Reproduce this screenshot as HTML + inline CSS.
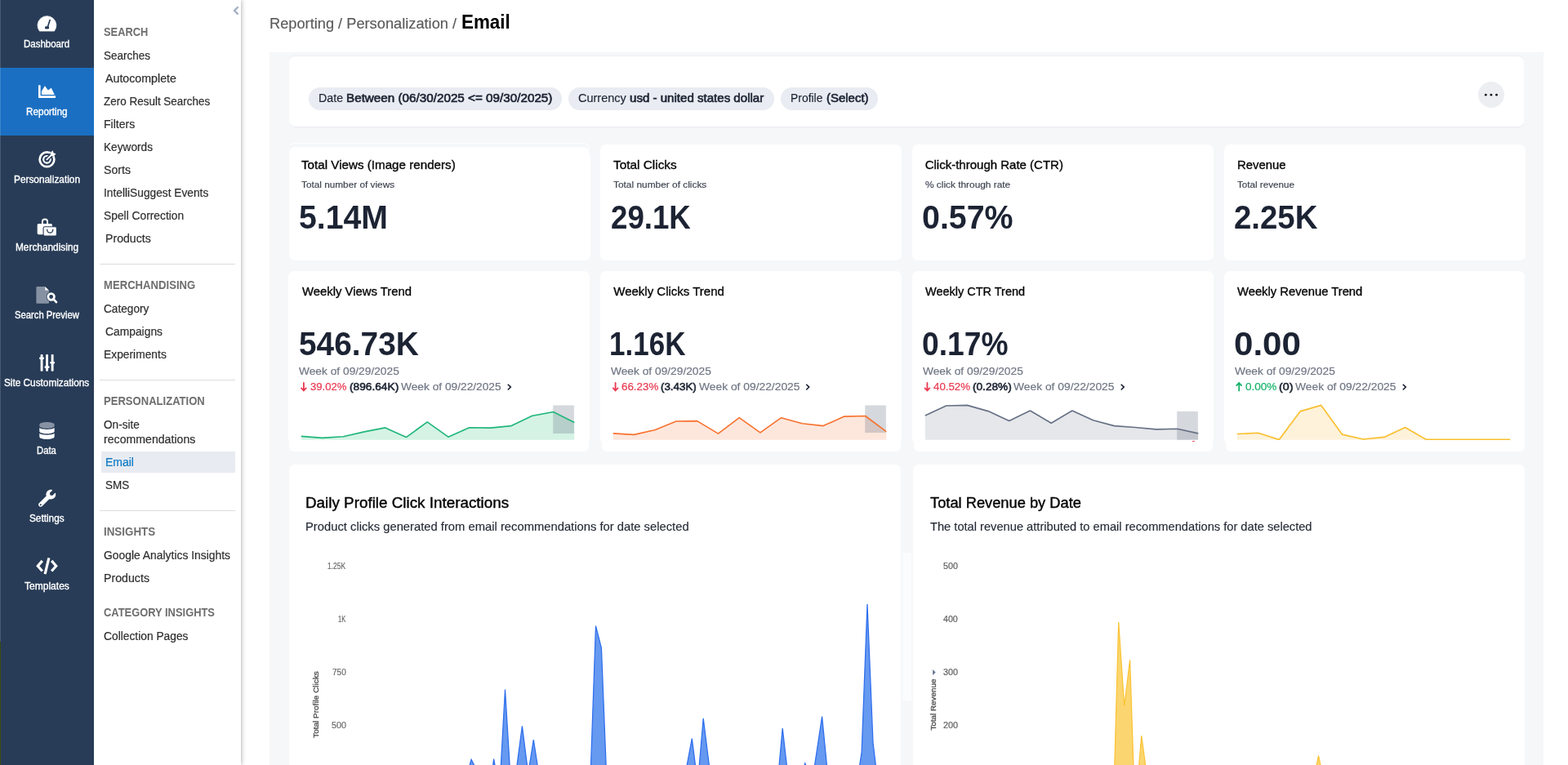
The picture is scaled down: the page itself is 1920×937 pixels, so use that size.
<!DOCTYPE html>
<html lang="en">
<head>
<meta charset="utf-8">
<title>Reporting / Personalization / Email</title>
<style>
html,body{margin:0;padding:0;}
body{width:1920px;height:937px;overflow:hidden;background:#fff;position:relative;font-family:"Liberation Sans",sans-serif;}
.abs{position:absolute;}
.t{position:absolute;white-space:pre;line-height:1;transform-origin:0 50%;}
#nav{left:0;top:0;width:115px;height:937px;background:#283c57;}
#navact{left:0;top:83px;width:115px;height:83px;background:#1b6fc2;}
#sub{left:115px;top:0;width:180px;height:937px;background:#fff;box-shadow:1px 0 5px rgba(0,0,0,.28);}
.hr{position:absolute;left:122px;width:166px;height:1px;background:#dcdcdc;}
#sel{left:124px;top:553px;width:164px;height:25.6px;background:#e8ebf1;}
#panel{left:330px;top:64px;width:1560px;height:873px;background:#f6f7f9;}
.card{position:absolute;background:#fff;}
.pill{position:absolute;top:107px;height:27.9px;border-radius:14px;background:#e9ecf2;}
#more{left:1810px;top:100.2px;width:32px;height:32px;border-radius:50%;background:#eceef2;}
body>svg{position:absolute;left:0;top:0;}
</style>
</head>
<body>
<div id="sub" class="abs"></div>
<div id="nav" class="abs"></div>
<div id="navact" class="abs"></div>
<div class="abs" style="left:0;top:0;width:1px;height:786px;background:rgba(255,255,255,.15)"></div>
<div class="abs" style="left:0;top:786px;width:1px;height:151px;background:#3d4a12"></div>
<div id="sel" class="abs"></div>
<div class="hr" style="top:323px"></div>
<div class="hr" style="top:465px"></div>
<div class="hr" style="top:625px"></div>
<div id="panel" class="abs"></div>
<div class="card" style="left:354px;top:69px;width:1512.00px;height:86.10px;border-radius:7px;box-shadow:0 1px 0 #e9ecf2, 0 -1px 0 #eceef3;"></div>
<div class="abs" style="left:353px;top:175.4px;width:369.4px;height:30px;border-radius:8px 8px 0 0;box-sizing:border-box;border:1px solid rgba(255,255,255,.75);border-bottom:none;border-left:none"></div>
<div class="card" style="left:354px;top:179.85px;width:366.60px;height:25.15px;border-radius:7px 7px 0 0;"></div>
<div class="card" style="left:354px;top:192px;width:368.80px;height:127.30px;border-radius:0 0 7px 7px;"></div>
<div class="card" style="left:734.9px;top:177px;width:368.70px;height:142.10px;border-radius:7px;"></div>
<div class="card" style="left:1117px;top:177px;width:368.60px;height:142.10px;border-radius:7px;"></div>
<div class="card" style="left:1498.75px;top:177px;width:368.75px;height:142.10px;border-radius:7px;"></div>
<div class="card" style="left:353.1px;top:331.8px;width:368.80px;height:208.05px;border-radius:7px 7px 0 0;"></div>
<div class="card" style="left:354.1px;top:535px;width:367.10px;height:18.05px;border-radius:0 0 6px 6px;"></div>
<div class="card" style="left:734.9px;top:331.8px;width:369.10px;height:208.05px;border-radius:7px 7px 0 0;"></div>
<div class="card" style="left:736.9px;top:535px;width:366.20px;height:18.05px;border-radius:0 0 6px 6px;"></div>
<div class="card" style="left:1116.7px;top:331.8px;width:369.20px;height:208.05px;border-radius:7px 7px 0 0;"></div>
<div class="card" style="left:1118.9px;top:535px;width:366.10px;height:18.05px;border-radius:0 0 6px 6px;"></div>
<div class="card" style="left:1498.7px;top:331.8px;width:368.80px;height:208.05px;border-radius:7px 7px 0 0;"></div>
<div class="card" style="left:1501px;top:535px;width:365.50px;height:18.05px;border-radius:0 0 6px 6px;"></div>
<div class="card" style="left:354.1px;top:569px;width:748.70px;height:391.00px;border-radius:7px;"></div>
<div class="card" style="left:1118.4px;top:569px;width:749.10px;height:391.00px;border-radius:7px;"></div>
<div class="abs" style="left:1460.3px;top:540px;width:3.2px;height:1px;background:#f0506a"></div>
<div class="pill" style="left:377.9px;width:310.3px"></div>
<div class="pill" style="left:695.8px;width:252.1px"></div>
<div class="pill" style="left:956px;width:119px"></div>
<div id="more" class="abs"></div>
<svg width="1920" height="937" viewBox="0 0 1920 937">
<svg x="340" y="480" width="1540" height="58.9" viewBox="340 480 1540 58.9" overflow="hidden"><g id="sparks"><path d="M368.8,534.4 L394.5,536.4 L420.3,534.8 L446.0,528.9 L471.7,523.9 L497.4,535.6 L523.2,516.8 L548.9,535.2 L574.6,523.7 L600.4,524.1 L626.1,521.6 L651.8,509.3 L677.6,504.5 L703.3,517.6 L703.3,538.8 L368.8,538.8 Z" fill="#d5f3e5"/><rect x="677.2" y="496.4" width="25.7" height="34.6" fill="rgba(100,110,130,0.27)"/><path d="M368.8,534.4 L394.5,536.4 L420.3,534.8 L446.0,528.9 L471.7,523.9 L497.4,535.6 L523.2,516.8 L548.9,535.2 L574.6,523.7 L600.4,524.1 L626.1,521.6 L651.8,509.3 L677.6,504.5 L703.3,517.6" fill="none" stroke="#1fb67a" stroke-width="1.65" stroke-linejoin="round" stroke-linecap="butt"/><path d="M750.8,530.9 L776.5,532.4 L802.3,526.5 L828.0,516.0 L853.7,515.6 L879.4,531.1 L905.2,511.7 L930.9,529.9 L956.6,511.7 L982.4,518.8 L1008.1,521.6 L1033.8,510.1 L1059.6,509.5 L1085.3,528.7 L1085.3,538.8 L750.8,538.8 Z" fill="#fde7dd"/><rect x="1059.2" y="496.4" width="25.7" height="33.6" fill="rgba(100,110,130,0.27)"/><path d="M750.8,530.9 L776.5,532.4 L802.3,526.5 L828.0,516.0 L853.7,515.6 L879.4,531.1 L905.2,511.7 L930.9,529.9 L956.6,511.7 L982.4,518.8 L1008.1,521.6 L1033.8,510.1 L1059.6,509.5 L1085.3,528.7" fill="none" stroke="#f7722f" stroke-width="1.65" stroke-linejoin="round" stroke-linecap="butt"/><path d="M1132.8,508.9 L1158.5,497.0 L1184.3,496.4 L1210.0,503.6 L1235.7,515.4 L1261.4,503.0 L1287.2,518.2 L1312.9,503.0 L1338.6,514.8 L1364.4,521.6 L1390.1,523.5 L1415.8,525.9 L1441.6,525.3 L1467.3,530.9 L1467.3,538.8 L1132.8,538.8 Z" fill="#e6e7ea"/><rect x="1441.2" y="503.9" width="25.7" height="34.8" fill="rgba(100,110,130,0.27)"/><path d="M1132.8,508.9 L1158.5,497.0 L1184.3,496.4 L1210.0,503.6 L1235.7,515.4 L1261.4,503.0 L1287.2,518.2 L1312.9,503.0 L1338.6,514.8 L1364.4,521.6 L1390.1,523.5 L1415.8,525.9 L1441.6,525.3 L1467.3,530.9" fill="none" stroke="#667085" stroke-width="1.65" stroke-linejoin="round" stroke-linecap="butt"/><path d="M1514.8,531.5 L1540.5,530.3 L1566.3,538.6 L1592.0,503.9 L1617.7,496.4 L1643.4,532.1 L1669.2,538.0 L1694.9,535.4 L1720.6,523.5 L1746.4,538.4 L1772.1,538.4 L1797.8,538.4 L1823.6,538.4 L1849.3,538.4 L1849.3,538.8 L1514.8,538.8 Z" fill="#fef2db"/><path d="M1514.8,531.5 L1540.5,530.3 L1566.3,538.6 L1592.0,503.9 L1617.7,496.4 L1643.4,532.1 L1669.2,538.0 L1694.9,535.4 L1720.6,523.5 L1746.4,538.4 L1772.1,538.4 L1797.8,538.4 L1823.6,538.4 L1849.3,538.4" fill="none" stroke="#f9bf2d" stroke-width="1.65" stroke-linejoin="round" stroke-linecap="butt"/></g></svg>
<g id="arrows"><path d="M371.9,469.0 V478.5 M369.0,475.4 L371.9,478.5 L374.8,475.4" fill="none" stroke="#e8384f" stroke-width="1.8" stroke-linecap="round" stroke-linejoin="round"/><path d="M621.8,470.7 L625.3,474.1 L621.8,477.5" fill="none" stroke="#1c2333" stroke-width="1.6"/><path d="M753.6,469.0 V478.5 M750.8,475.4 L753.6,478.5 L756.5,475.4" fill="none" stroke="#e8384f" stroke-width="1.8" stroke-linecap="round" stroke-linejoin="round"/><path d="M987.2,470.7 L990.7,474.1 L987.2,477.5" fill="none" stroke="#1c2333" stroke-width="1.6"/><path d="M1135.4,469.0 V478.5 M1132.5,475.4 L1135.4,478.5 L1138.3,475.4" fill="none" stroke="#e8384f" stroke-width="1.8" stroke-linecap="round" stroke-linejoin="round"/><path d="M1372.7,470.7 L1376.2,474.1 L1372.7,477.5" fill="none" stroke="#1c2333" stroke-width="1.6"/><path d="M1517.2,478.5 V469.0 M1514.2,472.1 L1517.2,469.0 L1520.1,472.1" fill="none" stroke="#17b26a" stroke-width="1.8" stroke-linecap="round" stroke-linejoin="round"/><path d="M1717.8,470.7 L1721.3,474.1 L1717.8,477.5" fill="none" stroke="#1c2333" stroke-width="1.6"/></g>
<g id="bluechart"><path d="M566.7,967.0 L577.1,930.3 L595.7,967.0 Z" fill="#6699f0" stroke="#2d6eee" stroke-width="1.25" stroke-linejoin="miter"/><path d="M600.1,967.0 L604.6,929.6 L611.7,967.0 Z" fill="#6699f0" stroke="#2d6eee" stroke-width="1.25" stroke-linejoin="miter"/><path d="M611.7,967.0 L618.5,844.6 L625.9,967.0 Z" fill="#6699f0" stroke="#2d6eee" stroke-width="1.25" stroke-linejoin="miter"/><path d="M629.1,967.0 L639.4,889.3 L649.2,967.0 Z" fill="#6699f0" stroke="#2d6eee" stroke-width="1.25" stroke-linejoin="miter"/><path d="M643.7,967.0 L653.3,906.0 L662.7,967.0 Z" fill="#6699f0" stroke="#2d6eee" stroke-width="1.25" stroke-linejoin="miter"/><path d="M722.5,967.0 L729.5,766.6 L736.4,793.7 L743.3,967.0 Z" fill="#6699f0" stroke="#2d6eee" stroke-width="1.25" stroke-linejoin="miter"/><path d="M835.6,967.0 L847.3,904.6 L855.2,967.0 Z" fill="#6699f0" stroke="#2d6eee" stroke-width="1.25" stroke-linejoin="miter"/><path d="M853.7,967.0 L861.2,879.8 L872.0,967.0 Z" fill="#6699f0" stroke="#2d6eee" stroke-width="1.25" stroke-linejoin="miter"/><path d="M951.4,967.0 L958.2,892.1 L966.7,967.0 Z" fill="#6699f0" stroke="#2d6eee" stroke-width="1.25" stroke-linejoin="miter"/><path d="M976.2,967.0 L985.8,935.0 L998.6,967.0 Z" fill="#6699f0" stroke="#2d6eee" stroke-width="1.25" stroke-linejoin="miter"/><path d="M993.1,967.0 L1006.6,877.5 L1015.3,967.0 Z" fill="#6699f0" stroke="#2d6eee" stroke-width="1.25" stroke-linejoin="miter"/><path d="M1048.1,967.0 L1055.1,921.4 L1062.0,740.1 L1069.0,909.8 L1075.9,967.0 Z" fill="#6699f0" stroke="#2d6eee" stroke-width="1.25" stroke-linejoin="miter"/></g>
<g id="yellowchart"><path d="M1364.0,967.0 L1369.7,761.9 L1376.7,864.8 L1383.6,808.2 L1388.9,967.0 Z" fill="#fbd670" stroke="#fac233" stroke-width="1.2" stroke-linejoin="miter"/><path d="M1392.2,967.0 L1397.7,901.1 L1406.7,967.0 Z" fill="#fbd670" stroke="#fac233" stroke-width="1.2" stroke-linejoin="miter"/><path d="M1606.1,967.0 L1614.5,925.7 L1623.3,967.0 Z" fill="#fbd670" stroke="#fac233" stroke-width="1.2" stroke-linejoin="miter"/></g>
<g id="dots" fill="#0a0a0a"><circle cx="1819.3" cy="116.2" r="1.35"/><circle cx="1825.9" cy="116.2" r="1.35"/><circle cx="1832.5" cy="116.2" r="1.35"/></g>
<path d="M290.9,9.1 L287,12.9 L290.9,16.8" fill="none" stroke="#a6b2c6" stroke-width="2.5" stroke-linecap="round" stroke-linejoin="round"/>
<g id="icons">
<!-- dashboard -->
<path d="M48.4,38.1 A11.45,11.45 0 1 1 66.5,38.1 Z" fill="#fff" stroke="#fff" stroke-width="0.7" stroke-linejoin="round"/>
<path d="M61.1,24.5 L58.3,33.4" fill="none" stroke="#283c57" stroke-width="1.7" stroke-linecap="round"/>
<rect x="55" y="32.2" width="5.1" height="3.4" rx="1.4" fill="#283c57"/>
<!-- reporting -->
<path transform="translate(47,101.55) scale(0.0412)" fill="#fff" d="M500 384c6.600 0 12 5.400 12 12v40c0 6.600-5.400 12-12 12H12c-6.600 0-12-5.400-12-12V76c0-6.600 5.400-12 12-12h40c6.600 0 12 5.400 12 12v308h436zM372.700 159.500L288 216l-85.300-113.700c-5.100-6.800-15.500-6.300-19.900 1L96 248v104h384l-89.900-187.800c-3.200-6.500-11.400-8.700-17.400-4.700z"/>
<!-- personalization -->
<circle cx="57.5" cy="195.3" r="8.9" fill="none" stroke="#fff" stroke-width="2.7"/>
<circle cx="57.5" cy="195.3" r="4.3" fill="none" stroke="#fff" stroke-width="2.2"/>
<path d="M57.3,195.6 L63.6,189.2" stroke="#283c57" stroke-width="4.6" stroke-linecap="round" fill="none"/>
<path d="M61.9,187.6 L64.4,184.7 L65.2,187.5 L68.1,188.5 L65.3,191.3 L62.6,190.6 Z" fill="#fff" stroke="#283c57" stroke-width="1.0" paint-order="stroke" stroke-linejoin="round"/>
<path d="M57.4,195.4 L64.2,188.6" stroke="#fff" stroke-width="1.9" stroke-linecap="round" fill="none"/>
<path d="M61.9,187.6 L64.4,184.7 L65.2,187.5 L68.1,188.5 L65.3,191.3 L62.6,190.6 Z" fill="#fff" stroke="#fff" stroke-width="0.5" stroke-linejoin="round"/>
<!-- merchandising -->
<path d="M51.9,274.4 V271.6 A3.1,3.1 0 0 1 58.1,271.6 V274.4" fill="none" stroke="#fff" stroke-width="1.9"/>
<rect x="45.7" y="274" width="18.2" height="13.2" rx="1.6" fill="#fff"/>
<rect x="53.1" y="277.7" width="16.3" height="11.4" rx="1.8" fill="#fff" stroke="#283c57" stroke-width="1.1"/>
<path d="M57.7,281.2 A3.55,3.9 0 0 0 64.8,281.2" fill="none" stroke="#283c57" stroke-width="1.4" stroke-linecap="round"/>
<!-- search preview -->
<path d="M45.6,351 H55 V355.9 H60.1 V370.6 A1.2,1.2 0 0 1 58.9,371.8 H45.6 A1.2,1.2 0 0 1 44.4,370.6 V352.2 A1.2,1.2 0 0 1 45.6,351 Z" fill="#8692a3"/>
<path d="M55.2,351 L60.1,355.7 H55.2 Z" fill="#fff"/>
<circle cx="62.65" cy="363.5" r="5.9" fill="#283c57"/>
<path d="M65.6,366.6 L69.1,370.2" stroke="#283c57" stroke-width="4.6" stroke-linecap="round"/>
<circle cx="62.65" cy="363.5" r="3.8" fill="none" stroke="#fff" stroke-width="2.7"/>
<path d="M65.9,366.9 L69,370.1" stroke="#fff" stroke-width="2.8" stroke-linecap="round"/>
<!-- site customizations -->
<g fill="#fff">
<rect x="49.6" y="434" width="2.9" height="20.8" rx="1"/>
<rect x="56.1" y="434" width="2.9" height="20.8" rx="1"/>
<rect x="62.7" y="434" width="2.9" height="20.8" rx="1"/>
<rect x="48.1" y="437.5" width="5.9" height="2.7" rx="1.1"/>
<rect x="54.6" y="448.3" width="5.9" height="2.7" rx="1.1"/>
<rect x="61.2" y="442.9" width="5.9" height="2.7" rx="1.1"/>
</g>
<!-- data -->
<g transform="translate(48.3,516.9) scale(0.041)"><path fill="#8692a3" d="M448 73.143v45.714C448 159.143 347.667 192 224 192S0 159.143 0 118.857V73.143C0 32.857 100.333 0 224 0s224 32.857 224 73.143z"/><path fill="#fff" d="M448 176v102.857C448 319.143 347.667 352 224 352S0 319.143 0 278.857V176c48.125 33.143 136.208 48.572 224 48.572S399.874 209.143 448 176zm0 160v102.857C448 479.143 347.667 512 224 512S0 479.143 0 438.857V336c48.125 33.143 136.208 48.572 224 48.572S399.874 369.143 448 336z"/></g>
<!-- settings -->
<path transform="translate(47.1,599.7) scale(0.0413)" fill="#fff" d="M507.73 109.1c-2.24-9.03-13.54-12.09-20.12-5.51l-74.36 74.36-67.88-11.31-11.31-67.88 74.36-74.36c6.62-6.62 3.43-17.9-5.66-20.16-47.38-11.74-99.55.91-136.58 37.93-39.64 39.64-50.55 97.1-34.05 147.2L18.74 402.76c-24.99 24.99-24.99 65.51 0 90.5 24.99 24.99 65.51 24.99 90.5 0l213.21-213.21c50.12 16.71 107.47 5.68 147.37-34.22 37.07-37.07 49.7-89.32 37.91-136.73zM64 472c-13.25 0-24-10.75-24-24 0-13.260 10.750-24 24-24s24 10.740 24 24c0 13.250-10.750 24-24 24z"/>
<!-- templates -->
<g fill="none" stroke="#fff" stroke-width="3.2">
<path d="M51.8,686.9 L46.3,693.2 L51.8,699.5" stroke-linejoin="miter"/>
<path d="M63.2,686.9 L68.7,693.2 L63.2,699.5" stroke-linejoin="miter"/>
<path d="M59.9,683.4 L55.1,703.2" stroke-linecap="butt"/>
</g>
</g>

<g font-family="'Liberation Sans',sans-serif" font-size="9.9">
<text transform="translate(390.1,903.8) rotate(-90)" fill="#505050" stroke="#505050" stroke-width="0.35" textLength="81.6" lengthAdjust="spacingAndGlyphs">Total Profile Clicks</text>
<text transform="translate(1146.3,894.5) rotate(-90)" fill="#505050" stroke="#505050" stroke-width="0.35" textLength="62.9" lengthAdjust="spacingAndGlyphs">Total Revenue</text>
<path d="M1142.2,820 L1145.6,823.5 L1142.2,827 Z" fill="#60728f"/>
</g>
<rect x="1105.3" y="677" width="10.8" height="181.5" fill="#fff" opacity="0.6"/>
</svg>
<nav aria-label="Main">
<span class="t" style="left:29.33px;top:48px;font-size:12px;color:#fff;transform:scaleX(0.9579);-webkit-text-stroke:0.35px #fff;">Dashboard</span>
<span class="t" style="left:32.12px;top:131px;font-size:12px;color:#fff;transform:scaleX(0.9717);-webkit-text-stroke:0.35px #fff;">Reporting</span>
<span class="t" style="left:16.90px;top:214px;font-size:12px;color:#fff;transform:scaleX(0.9871);-webkit-text-stroke:0.35px #fff;">Personalization</span>
<span class="t" style="left:19.00px;top:297px;font-size:12px;color:#fff;transform:scaleX(0.9878);-webkit-text-stroke:0.35px #fff;">Merchandising</span>
<span class="t" style="left:17.66px;top:380px;font-size:12px;color:#fff;transform:scaleX(0.9381);-webkit-text-stroke:0.35px #fff;">Search Preview</span>
<span class="t" style="left:5.34px;top:463px;font-size:12px;color:#fff;transform:scaleX(0.9827);-webkit-text-stroke:0.35px #fff;">Site Customizations</span>
<span class="t" style="left:45.15px;top:546px;font-size:12px;color:#fff;transform:scaleX(0.9379);-webkit-text-stroke:0.35px #fff;">Data</span>
<span class="t" style="left:35.84px;top:629px;font-size:12px;color:#fff;transform:scaleX(0.9828);-webkit-text-stroke:0.35px #fff;">Settings</span>
<span class="t" style="left:30.10px;top:712px;font-size:12px;color:#fff;transform:scaleX(1.0030);-webkit-text-stroke:0.35px #fff;">Templates</span>
</nav>
<aside aria-label="Reporting menu">
<span class="t" style="left:126.60px;top:32px;font-size:14px;color:#6e6e6e;font-weight:700;transform:scaleX(0.9179);">SEARCH</span>
<span class="t" style="left:126.60px;top:61px;font-size:14px;color:#2e2e2e;transform:scaleX(0.9635);-webkit-text-stroke:0.2px #2e2e2e;">Searches</span>
<span class="t" style="left:128.60px;top:89px;font-size:14px;color:#2e2e2e;transform:scaleX(1.0155);-webkit-text-stroke:0.2px #2e2e2e;">Autocomplete</span>
<span class="t" style="left:126.60px;top:117px;font-size:14px;color:#2e2e2e;transform:scaleX(0.9623);-webkit-text-stroke:0.2px #2e2e2e;">Zero Result Searches</span>
<span class="t" style="left:126.60px;top:145px;font-size:14px;color:#2e2e2e;transform:scaleX(1.0052);-webkit-text-stroke:0.2px #2e2e2e;">Filters</span>
<span class="t" style="left:126.60px;top:173px;font-size:14px;color:#2e2e2e;transform:scaleX(0.9760);-webkit-text-stroke:0.2px #2e2e2e;">Keywords</span>
<span class="t" style="left:126.60px;top:201px;font-size:14px;color:#2e2e2e;transform:scaleX(1.0103);-webkit-text-stroke:0.2px #2e2e2e;">Sorts</span>
<span class="t" style="left:126.60px;top:229px;font-size:14px;color:#2e2e2e;transform:scaleX(0.9813);-webkit-text-stroke:0.2px #2e2e2e;">IntelliSuggest Events</span>
<span class="t" style="left:126.60px;top:257px;font-size:14px;color:#2e2e2e;transform:scaleX(0.9859);-webkit-text-stroke:0.2px #2e2e2e;">Spell Correction</span>
<span class="t" style="left:128.60px;top:285px;font-size:14px;color:#2e2e2e;transform:scaleX(1.0102);-webkit-text-stroke:0.2px #2e2e2e;">Products</span>
<span class="t" style="left:126.60px;top:371px;font-size:14px;color:#2e2e2e;transform:scaleX(0.9739);-webkit-text-stroke:0.2px #2e2e2e;">Category</span>
<span class="t" style="left:128.60px;top:399px;font-size:14px;color:#2e2e2e;transform:scaleX(0.9885);-webkit-text-stroke:0.2px #2e2e2e;">Campaigns</span>
<span class="t" style="left:126.60px;top:427px;font-size:14px;color:#2e2e2e;transform:scaleX(0.9871);-webkit-text-stroke:0.2px #2e2e2e;">Experiments</span>
<span class="t" style="left:126.60px;top:513px;font-size:14px;color:#2e2e2e;transform:scaleX(0.9730);-webkit-text-stroke:0.2px #2e2e2e;">On-site</span>
<span class="t" style="left:126.60px;top:531px;font-size:14px;color:#2e2e2e;transform:scaleX(1.0093);-webkit-text-stroke:0.2px #2e2e2e;">recommendations</span>
<span class="t" style="left:128.60px;top:587px;font-size:14px;color:#2e2e2e;transform:scaleX(0.9597);-webkit-text-stroke:0.2px #2e2e2e;">SMS</span>
<span class="t" style="left:126.60px;top:673px;font-size:14px;color:#2e2e2e;transform:scaleX(0.9912);-webkit-text-stroke:0.2px #2e2e2e;">Google Analytics Insights</span>
<span class="t" style="left:126.60px;top:701px;font-size:14px;color:#2e2e2e;transform:scaleX(1.0138);-webkit-text-stroke:0.2px #2e2e2e;">Products</span>
<span class="t" style="left:126.60px;top:772px;font-size:14px;color:#2e2e2e;transform:scaleX(0.9851);-webkit-text-stroke:0.2px #2e2e2e;">Collection Pages</span>
<span class="t" style="left:128.90px;top:559px;font-size:14px;color:#0b79c4;-webkit-text-stroke:0.2px #0b79c4;">Email</span>
<span class="t" style="left:126.60px;top:342px;font-size:14px;color:#6e6e6e;font-weight:700;transform:scaleX(0.9368);">MERCHANDISING</span>
<span class="t" style="left:126.60px;top:484px;font-size:14px;color:#6e6e6e;font-weight:700;transform:scaleX(0.9325);">PERSONALIZATION</span>
<span class="t" style="left:126.60px;top:644px;font-size:14px;color:#6e6e6e;font-weight:700;transform:scaleX(0.9547);">INSIGHTS</span>
<span class="t" style="left:126.60px;top:743px;font-size:14px;color:#6e6e6e;font-weight:700;transform:scaleX(0.9216);">CATEGORY INSIGHTS</span>
</aside>
<main>
<span class="t" style="left:329.58px;top:20px;font-size:18px;color:#5a5a5a;transform:scaleX(1.0129);-webkit-text-stroke:0.15px #5a5a5a;">Reporting / Personalization /</span>
<span class="t" style="left:565.00px;top:15px;font-size:24px;color:#000;font-weight:700;transform:scaleX(0.9337);">Email</span>
<span class="t" style="left:389.50px;top:113px;font-size:14px;color:#1c2333;transform:scaleX(1.0197);-webkit-text-stroke:0.15px #1c2333;">Date</span>
<span class="t" style="left:424.25px;top:113px;font-size:14px;color:#1c2333;transform:scaleX(1.0881);-webkit-text-stroke:0.6px #1c2333;">Between (06/30/2025 &lt;= 09/30/2025)</span>
<span class="t" style="left:707.84px;top:113px;font-size:14px;color:#1c2333;transform:scaleX(1.0356);-webkit-text-stroke:0.15px #1c2333;">Currency</span>
<span class="t" style="left:770.92px;top:113px;font-size:14px;color:#1c2333;transform:scaleX(1.0767);-webkit-text-stroke:0.6px #1c2333;">usd - united states dollar</span>
<span class="t" style="left:967.83px;top:113px;font-size:14px;color:#1c2333;transform:scaleX(0.9931);-webkit-text-stroke:0.15px #1c2333;">Profile</span>
<span class="t" style="left:1011.57px;top:113px;font-size:14px;color:#1c2333;transform:scaleX(1.0689);-webkit-text-stroke:0.6px #1c2333;">(Select)</span>
<span class="t" style="left:368.63px;top:194px;font-size:15px;color:#060606;transform:scaleX(1.0121);-webkit-text-stroke:0.35px #060606;">Total Views (Image renders)</span>
<span class="t" style="left:368.51px;top:221px;font-size:11.5px;color:#3a404d;transform:scaleX(1.0254);-webkit-text-stroke:0.15px #3a404d;">Total number of views</span>
<span class="t" style="left:365.69px;top:246px;font-size:40px;color:#1c2333;font-weight:700;transform:scaleX(0.9807);">5.14M</span>
<span class="t" style="left:751.08px;top:194px;font-size:15px;color:#060606;transform:scaleX(1.0244);-webkit-text-stroke:0.35px #060606;">Total Clicks</span>
<span class="t" style="left:751.06px;top:221px;font-size:11.5px;color:#3a404d;transform:scaleX(1.0337);-webkit-text-stroke:0.15px #3a404d;">Total number of clicks</span>
<span class="t" style="left:747.73px;top:246px;font-size:40px;color:#1c2333;font-weight:700;transform:scaleX(0.9168);">29.1K</span>
<span class="t" style="left:1132.71px;top:194px;font-size:15px;color:#060606;-webkit-text-stroke:0.35px #060606;">Click-through Rate (CTR)</span>
<span class="t" style="left:1132.95px;top:221px;font-size:11.5px;color:#3a404d;transform:scaleX(1.0318);-webkit-text-stroke:0.15px #3a404d;">% click through rate</span>
<span class="t" style="left:1129.14px;top:246px;font-size:40px;color:#1c2333;font-weight:700;transform:scaleX(0.9839);">0.57%</span>
<span class="t" style="left:1514.96px;top:194px;font-size:15px;color:#060606;transform:scaleX(0.9897);-webkit-text-stroke:0.35px #060606;">Revenue</span>
<span class="t" style="left:1514.91px;top:221px;font-size:11.5px;color:#3a404d;transform:scaleX(1.0128);-webkit-text-stroke:0.15px #3a404d;">Total revenue</span>
<span class="t" style="left:1511.42px;top:246px;font-size:40px;color:#1c2333;font-weight:700;transform:scaleX(0.9597);">2.25K</span>
<span class="t" style="left:369.51px;top:349px;font-size:15px;color:#060606;transform:scaleX(0.9909);-webkit-text-stroke:0.35px #060606;">Weekly Views Trend</span>
<span class="t" style="left:365.71px;top:401px;font-size:40px;color:#1c2333;font-weight:700;transform:scaleX(0.9704);">546.73K</span>
<span class="t" style="left:366.44px;top:448px;font-size:13.5px;color:#6f7684;transform:scaleX(1.0182);-webkit-text-stroke:0.2px #6f7684;">Week of 09/29/2025</span>
<span class="t" style="left:379.60px;top:467px;font-size:13.5px;color:#e8384f;transform:scaleX(0.9723);-webkit-text-stroke:0.2px #e8384f;">39.02%</span>
<span class="t" style="left:427.55px;top:467px;font-size:13.5px;color:#1c2333;transform:scaleX(1.0154);-webkit-text-stroke:0.6px #1c2333;">(896.64K)</span>
<span class="t" style="left:491.14px;top:467px;font-size:13.5px;color:#6f7684;transform:scaleX(1.0170);-webkit-text-stroke:0.2px #6f7684;">Week of 09/22/2025</span>
<span class="t" style="left:751.31px;top:349px;font-size:15px;color:#060606;-webkit-text-stroke:0.35px #060606;">Weekly Clicks Trend</span>
<span class="t" style="left:746.49px;top:401px;font-size:40px;color:#1c2333;font-weight:700;transform:scaleX(0.8753);">1.16K</span>
<span class="t" style="left:748.19px;top:448px;font-size:13.5px;color:#6f7684;transform:scaleX(1.0182);-webkit-text-stroke:0.2px #6f7684;">Week of 09/29/2025</span>
<span class="t" style="left:760.92px;top:467px;font-size:13.5px;color:#e8384f;transform:scaleX(0.9906);-webkit-text-stroke:0.2px #e8384f;">66.23%</span>
<span class="t" style="left:809.27px;top:467px;font-size:13.5px;color:#1c2333;transform:scaleX(0.9884);-webkit-text-stroke:0.6px #1c2333;">(3.43K)</span>
<span class="t" style="left:855.94px;top:467px;font-size:13.5px;color:#6f7684;transform:scaleX(1.0236);-webkit-text-stroke:0.2px #6f7684;">Week of 09/22/2025</span>
<span class="t" style="left:1133.41px;top:349px;font-size:15px;color:#060606;transform:scaleX(0.9657);-webkit-text-stroke:0.35px #060606;">Weekly CTR Trend</span>
<span class="t" style="left:1129.23px;top:401px;font-size:40px;color:#1c2333;font-weight:700;transform:scaleX(0.9298);">0.17%</span>
<span class="t" style="left:1129.94px;top:448px;font-size:13.5px;color:#6f7684;transform:scaleX(1.0182);-webkit-text-stroke:0.2px #6f7684;">Week of 09/29/2025</span>
<span class="t" style="left:1143.40px;top:467px;font-size:13.5px;color:#e8384f;transform:scaleX(0.9823);-webkit-text-stroke:0.2px #e8384f;">40.52%</span>
<span class="t" style="left:1190.86px;top:467px;font-size:13.5px;color:#1c2333;transform:scaleX(1.0089);-webkit-text-stroke:0.6px #1c2333;">(0.28%)</span>
<span class="t" style="left:1241.44px;top:467px;font-size:13.5px;color:#6f7684;transform:scaleX(1.0236);-webkit-text-stroke:0.2px #6f7684;">Week of 09/22/2025</span>
<span class="t" style="left:1515.21px;top:349px;font-size:15px;color:#060606;transform:scaleX(0.9850);-webkit-text-stroke:0.35px #060606;">Weekly Revenue Trend</span>
<span class="t" style="left:1510.94px;top:401px;font-size:40px;color:#1c2333;font-weight:700;transform:scaleX(1.0519);">0.00</span>
<span class="t" style="left:1511.69px;top:448px;font-size:13.5px;color:#6f7684;transform:scaleX(1.0182);-webkit-text-stroke:0.2px #6f7684;">Week of 09/29/2025</span>
<span class="t" style="left:1524.97px;top:467px;font-size:13.5px;color:#17b26a;transform:scaleX(1.0035);-webkit-text-stroke:0.2px #17b26a;">0.00%</span>
<span class="t" style="left:1566.22px;top:467px;font-size:13.5px;color:#1c2333;transform:scaleX(1.0523);-webkit-text-stroke:0.6px #1c2333;">(0)</span>
<span class="t" style="left:1586.44px;top:467px;font-size:13.5px;color:#6f7684;transform:scaleX(1.0236);-webkit-text-stroke:0.2px #6f7684;">Week of 09/22/2025</span>
<span class="t" style="left:374.15px;top:607px;font-size:18px;color:#060606;transform:scaleX(1.0464);-webkit-text-stroke:0.4px #060606;">Daily Profile Click Interactions</span>
<span class="t" style="left:374.36px;top:638px;font-size:14.5px;color:#262b36;transform:scaleX(1.0187);-webkit-text-stroke:0.15px #262b36;">Product clicks generated from email recommendations for date selected</span>
<span class="t" style="left:1139.09px;top:607px;font-size:18px;color:#060606;transform:scaleX(1.0154);-webkit-text-stroke:0.4px #060606;">Total Revenue by Date</span>
<span class="t" style="left:1139.05px;top:638px;font-size:14.5px;color:#262b36;transform:scaleX(1.0105);-webkit-text-stroke:0.15px #262b36;">The total revenue attributed to email recommendations for date selected</span>
<span class="t" style="left:401.08px;top:689px;font-size:10px;color:#666;transform:scaleX(0.8512);-webkit-text-stroke:0.15px #666;">1.25K</span>
<span class="t" style="left:413.89px;top:754px;font-size:10px;color:#666;transform:scaleX(0.7704);-webkit-text-stroke:0.15px #666;">1K</span>
<span class="t" style="left:406.76px;top:819px;font-size:10px;color:#666;transform:scaleX(1.0107);-webkit-text-stroke:0.15px #666;">750</span>
<span class="t" style="left:405.64px;top:884px;font-size:10px;color:#666;transform:scaleX(1.0791);-webkit-text-stroke:0.15px #666;">500</span>
<span class="t" style="left:1154.87px;top:689px;font-size:10px;color:#5f5f5f;transform:scaleX(1.0759);-webkit-text-stroke:0.2px #5f5f5f;">500</span>
<span class="t" style="left:1155.06px;top:754px;font-size:10px;color:#5f5f5f;transform:scaleX(1.0645);-webkit-text-stroke:0.2px #5f5f5f;">400</span>
<span class="t" style="left:1154.89px;top:819px;font-size:10px;color:#5f5f5f;transform:scaleX(1.0746);-webkit-text-stroke:0.2px #5f5f5f;">300</span>
<span class="t" style="left:1154.76px;top:884px;font-size:10px;color:#5f5f5f;transform:scaleX(1.0829);-webkit-text-stroke:0.2px #5f5f5f;">200</span>
</main>
</body>
</html>
